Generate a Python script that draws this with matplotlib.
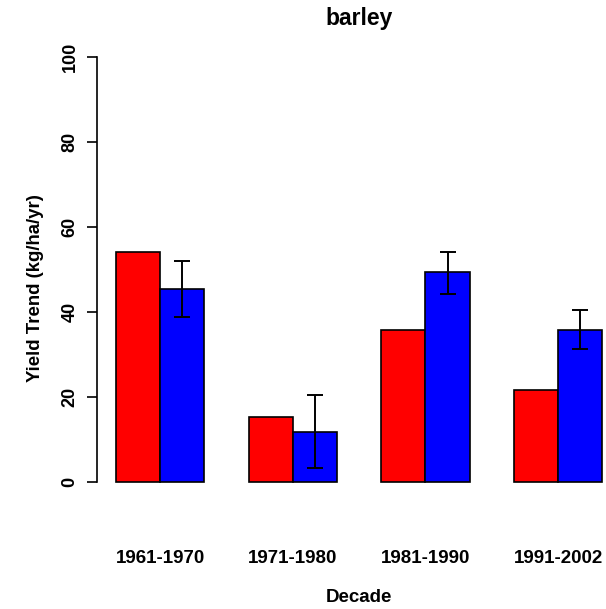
import matplotlib.pyplot as plt
import numpy as np

plt.rcParams['font.family'] = ['Liberation Sans', 'DejaVu Sans']
plt.rcParams['font.weight'] = 'bold'

decades = ['1961-1970', '1971-1980', '1981-1990', '1991-2002']
red_vals = [54.1, 15.3, 35.7, 21.7]
blue_vals = [45.3, 11.8, 49.3, 35.7]
blue_err_hi = [52.1, 20.5, 54.1, 40.5]
blue_err_lo = [38.9, 3.3, 44.2, 31.3]

red = np.array(red_vals)
blue = np.array(blue_vals)
err = np.array([blue - np.array(blue_err_lo), np.array(blue_err_hi) - blue])

fig = plt.figure(figsize=(6.06, 6.09), dpi=100)
# plot region runs past the right edge, as in the original
ax = fig.add_axes([96.5 / 606, 0.1811, 525.3 / 606, 0.7527])

grp = np.arange(len(decades)) * 3 + 1
ax.bar(grp, red, width=1, align='edge', color='#ff0000', edgecolor='black', linewidth=1.2)
ax.bar(grp + 1, blue, width=1, align='edge', color='#0000ff', edgecolor='black', linewidth=1.2)
ax.errorbar(grp + 1.5, blue, yerr=err, fmt='none', ecolor='black',
            elinewidth=1.4, capsize=6, capthick=1.4)

ax.set_xlim(0.56, 12.44)
ax.set_ylim(-4, 104)
for s in ['top', 'right', 'bottom']:
    ax.spines[s].set_visible(False)
ax.spines['left'].set_bounds(0, 100)
ax.spines['left'].set_linewidth(1.2)

ax.set_yticks([0, 20, 40, 60, 80, 100])
ax.tick_params(axis='y', length=7, width=1.2, pad=6, labelsize=13, labelrotation=90)
for lab in ax.get_yticklabels():
    lab.set_va('center')

ax.set_xticks([])
for x, lab in zip(grp + 1, decades):
    ax.text(x, -0.1294, lab, transform=ax.get_xaxis_transform(),
            ha='center', va='center', fontsize=13.5, fontweight='bold')

ax.text(0.5, -0.2166, 'Decade', transform=ax.transAxes, ha='center', va='center',
        fontsize=13.5, fontweight='bold')
fig.text(36 / 606, 1 - 288 / 609, 'Yield Trend (kg/ha/yr)', rotation=90,
         ha='center', va='center', fontsize=13.4, fontweight='bold')
fig.text(359 / 606, 1 - 19 / 609, 'barley', ha='center', va='center',
         fontsize=16.5, fontweight='bold')

fig.savefig('out.png', dpi=100)
